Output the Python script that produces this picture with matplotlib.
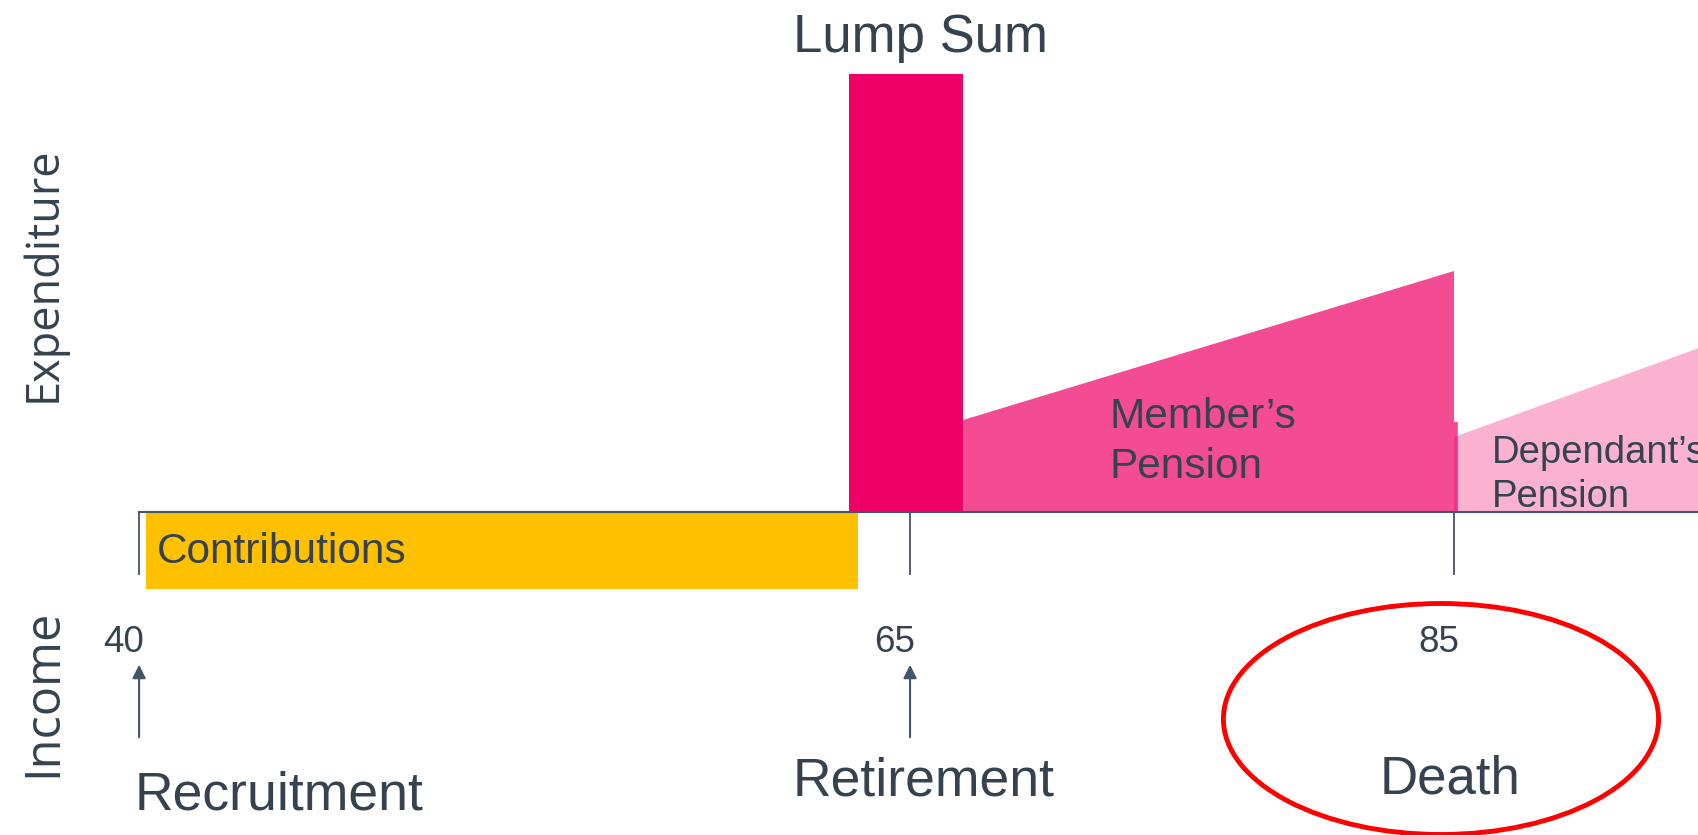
import numpy as np
import matplotlib.pyplot as plt
from matplotlib.patches import Ellipse, Polygon

# --- data (ages on x, schematic amounts on y; 0 = timeline) ---
tick_ages = [40, 65, 85]
tick_labels = ['40', '65', '85']
event_ages = [40, 65]
event_labels = ['Recruitment', 'Retirement', 'Death']
event_label_ages = [39.87, 65.5, 84.85]

contrib_start, contrib_end, contrib_amount = 40.23, 63.31, -77
lump_start, lump_end, lump_amount = 63.02, 66.95, 438
member_ages = [66.95, 85.0]
member_amounts = [92, 241]
member_base_amount, member_base_end = 90, 85.14
dep_ages = [85.0, 94.0]
dep_amounts = [73, 162]
dep_base_amount = 75

pink = '#EF0066'
gold = '#FFC000'
slate = '#44546A'
txt = '#36434F'


# timeline is not to scale: 40-65 is drawn wider per year than after 65
def fwd(a):
    a = np.asarray(a, dtype=float)
    return np.where(a < 65, (a - 65) * 30.84, (a - 65) * 27.2)


def inv(p):
    p = np.asarray(p, dtype=float)
    return np.where(p < 0, p / 30.84 + 65, p / 27.2 + 65)


fig = plt.figure(figsize=(16.98, 8.35), dpi=100)
ax = fig.add_axes([0, 0, 1, 1])
ax.set_xscale('function', functions=(fwd, inv))
ax.set_xlim(35.49, 93.97)
ax.set_ylim(-323, 512)
ax.axis('off')

# contributions (income, below the line)
ax.fill_between([contrib_start, contrib_end], contrib_amount, 0, color=gold, lw=0, zorder=2)

# lump sum
ax.fill_between([lump_start, lump_end], 0, lump_amount, color=pink, lw=0, zorder=3)

# member's pension
member_poly = [(member_ages[0], 0), (member_ages[0], member_amounts[0]),
               (member_ages[1], member_amounts[1]), (member_ages[1], member_base_amount),
               (member_base_end, member_base_amount), (member_base_end, 0)]
ax.add_patch(Polygon(member_poly, closed=True, color=pink, alpha=0.7, lw=0, zorder=2))

# dependant's pension
dep_poly = [(dep_ages[0], 0), (dep_ages[0], dep_base_amount),
            (dep_ages[1], dep_amounts[1] + 2), (dep_ages[1], 0)]
ax.add_patch(Polygon(dep_poly, closed=True, color=pink, alpha=0.3, lw=0, zorder=3))

# timeline + ticks
ax.plot([tick_ages[0], dep_ages[1]], [0, 0], color=slate, lw=1.5, zorder=4)
for a, lab in zip(tick_ages, tick_labels):
    ax.plot([a, a], [0, -62], color=slate, lw=1.3, zorder=4)
    ax.annotate(lab, (a, -131), xytext=(-11, 0), textcoords='offset points',
                ha='center', va='center', fontsize=26.5, color=txt,
                family='Liberation Sans')

# arrows for recruitment / retirement
for a in event_ages:
    ax.annotate('', xy=(a, -150), xytext=(a, -228),
                arrowprops=dict(arrowstyle='-|>', color=slate, lw=1.5,
                                mutation_scale=20))

ax.text(event_label_ages[0], -284, event_labels[0], ha='left', va='center',
        fontsize=38.5, color=txt, family='Liberation Sans')
ax.text(event_label_ages[1], -270, event_labels[1], ha='center', va='center',
        fontsize=38.5, color=txt, family='Liberation Sans')
ax.text(event_label_ages[2], -268, event_labels[2], ha='center', va='center',
        fontsize=38, color=txt, family='Liberation Sans')

# highlight round death
ax.add_patch(Ellipse((84.52, -207), 16.0, 231, fill=False, ec='#FF0000', lw=3.5, zorder=5))

# labels
ax.text(65.4, 460, 'Lump Sum', ha='center', va='baseline', fontsize=38,
        color=txt, family='Liberation Sans')
ax.text(40.58, -40, 'Contributions', ha='left', va='center', fontsize=30.5,
        color=txt, family='Liberation Sans', zorder=6)
ax.text(72.35, 70, 'Member\u2019s\nPension', ha='left', va='center', fontsize=30.5,
        color=txt, family='Liberation Sans', linespacing=1.32, zorder=6)
ax.text(86.4, 37, 'Dependant\u2019s\nPension', ha='left', va='center', fontsize=27.5,
        color=txt, family='Liberation Sans', linespacing=1.3, zorder=6)

ax.text(36.89, 238, 'Expenditure', rotation=90, ha='center', va='center',
        fontsize=32.5, color=txt, family='Open Sans')
ax.text(36.89, -181, 'Income', rotation=90, ha='center', va='center',
        fontsize=35, color=txt, family='Open Sans')

fig.savefig('out.png', dpi=100)
